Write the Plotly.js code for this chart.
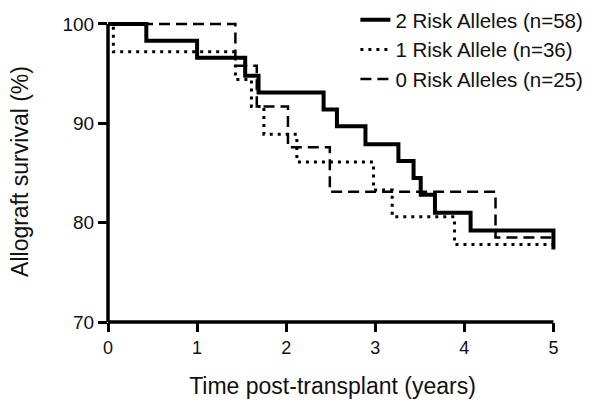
<!DOCTYPE html>
<html>
<head>
<meta charset="utf-8">
<script src="https://cdn.plot.ly/plotly-3.0.1.min.js"></script>
<style>html,body{margin:0;padding:0;background:#fff;}#chart{width:600px;height:409px;}</style>
</head>
<body>
<div id="chart"></div>
<script>
// Kaplan-Meier step data (time in years, survival in %)
const seriesNames = ["2 Risk Alleles (n=58)", "1 Risk Allele (n=36)", "0 Risk Alleles (n=25)"];

const time2 = [0, 0.43, 1.0, 1.54, 1.69, 2.42, 2.57, 2.89, 3.26, 3.43, 3.51, 3.67, 4.07, 5.0];
const surv2 = [100, 98.3, 96.6, 94.8, 93.1, 91.4, 89.7, 87.9, 86.2, 84.5, 82.8, 81.0, 79.2, 77.3];

const time1 = [0, 0.06, 1.43, 1.61, 1.75, 2.12, 2.98, 3.19, 3.89, 5.0];
const surv1 = [100, 97.2, 94.4, 91.7, 88.9, 86.1, 83.3, 80.6, 77.8, 77.8];

const time0 = [0, 1.43, 1.67, 2.02, 2.49, 4.35, 5.0];
const surv0 = [100, 95.8, 91.7, 87.6, 83.1, 78.5, 78.5];

const xTicks = [0, 1, 2, 3, 4, 5];
const yTicks = [70, 80, 90, 100];

const font = "Liberation Sans, Arial, Helvetica, sans-serif";

const traces = [
  {x: time2, y: surv2, name: seriesNames[0], mode: "lines",
   line: {shape: "hv", color: "#000", width: 4}},
  {x: time1, y: surv1, name: seriesNames[1], mode: "lines",
   line: {shape: "hv", color: "#000", width: 3, dash: "3px,5px"}},
  {x: time0, y: surv0, name: seriesNames[2], mode: "lines",
   line: {shape: "hv", color: "#000", width: 2.5, dash: "11px,6px"}}
];

const layout = {
  width: 600, height: 409,
  margin: {l: 108, r: 43, t: 21, b: 87, pad: 0, autoexpand: false},
  paper_bgcolor: "#fff", plot_bgcolor: "#fff",
  font: {family: font, color: "#111"},
  showlegend: true,
  legend: {x: 0.551, y: 1.07, xanchor: "left", yanchor: "top",
           bgcolor: "rgba(0,0,0,0)", font: {size: 20.5, family: font, color: "#111"}},
  xaxis: {range: [0, 5.04], tickvals: xTicks, ticktext: xTicks.map(String),
          ticks: "outside", ticklen: 9, tickwidth: 3, tickcolor: "#000",
          showline: false, showgrid: false, zeroline: false,
          tickfont: {size: 18, family: font, color: "#111"},
          title: {text: "Time post-transplant (years)", font: {size: 23, family: font, color: "#111"}, standoff: 21}},
  yaxis: {range: [70, 100.3], tickvals: yTicks, ticktext: yTicks.map(String),
          ticks: "outside", ticklen: 9, tickwidth: 3, tickcolor: "#000",
          showline: false, showgrid: false, zeroline: false,
          tickfont: {size: 19, family: font, color: "#111"},
          title: {text: "Allograft survival (%)", font: {size: 23, family: font, color: "#111"}, standoff: 27}},
  shapes: [
    {type: "line", xref: "paper", yref: "y", x0: 0, x1: 0, y0: 70, y1: 100, line: {color: "#000", width: 3.5}},
    {type: "line", xref: "x", yref: "paper", x0: 0, x1: 5, y0: 0, y1: 0, line: {color: "#000", width: 3.5}}
  ]
};

Plotly.newPlot("chart", traces, layout, {staticPlot: true, displayModeBar: false});
</script>
</body>
</html>
